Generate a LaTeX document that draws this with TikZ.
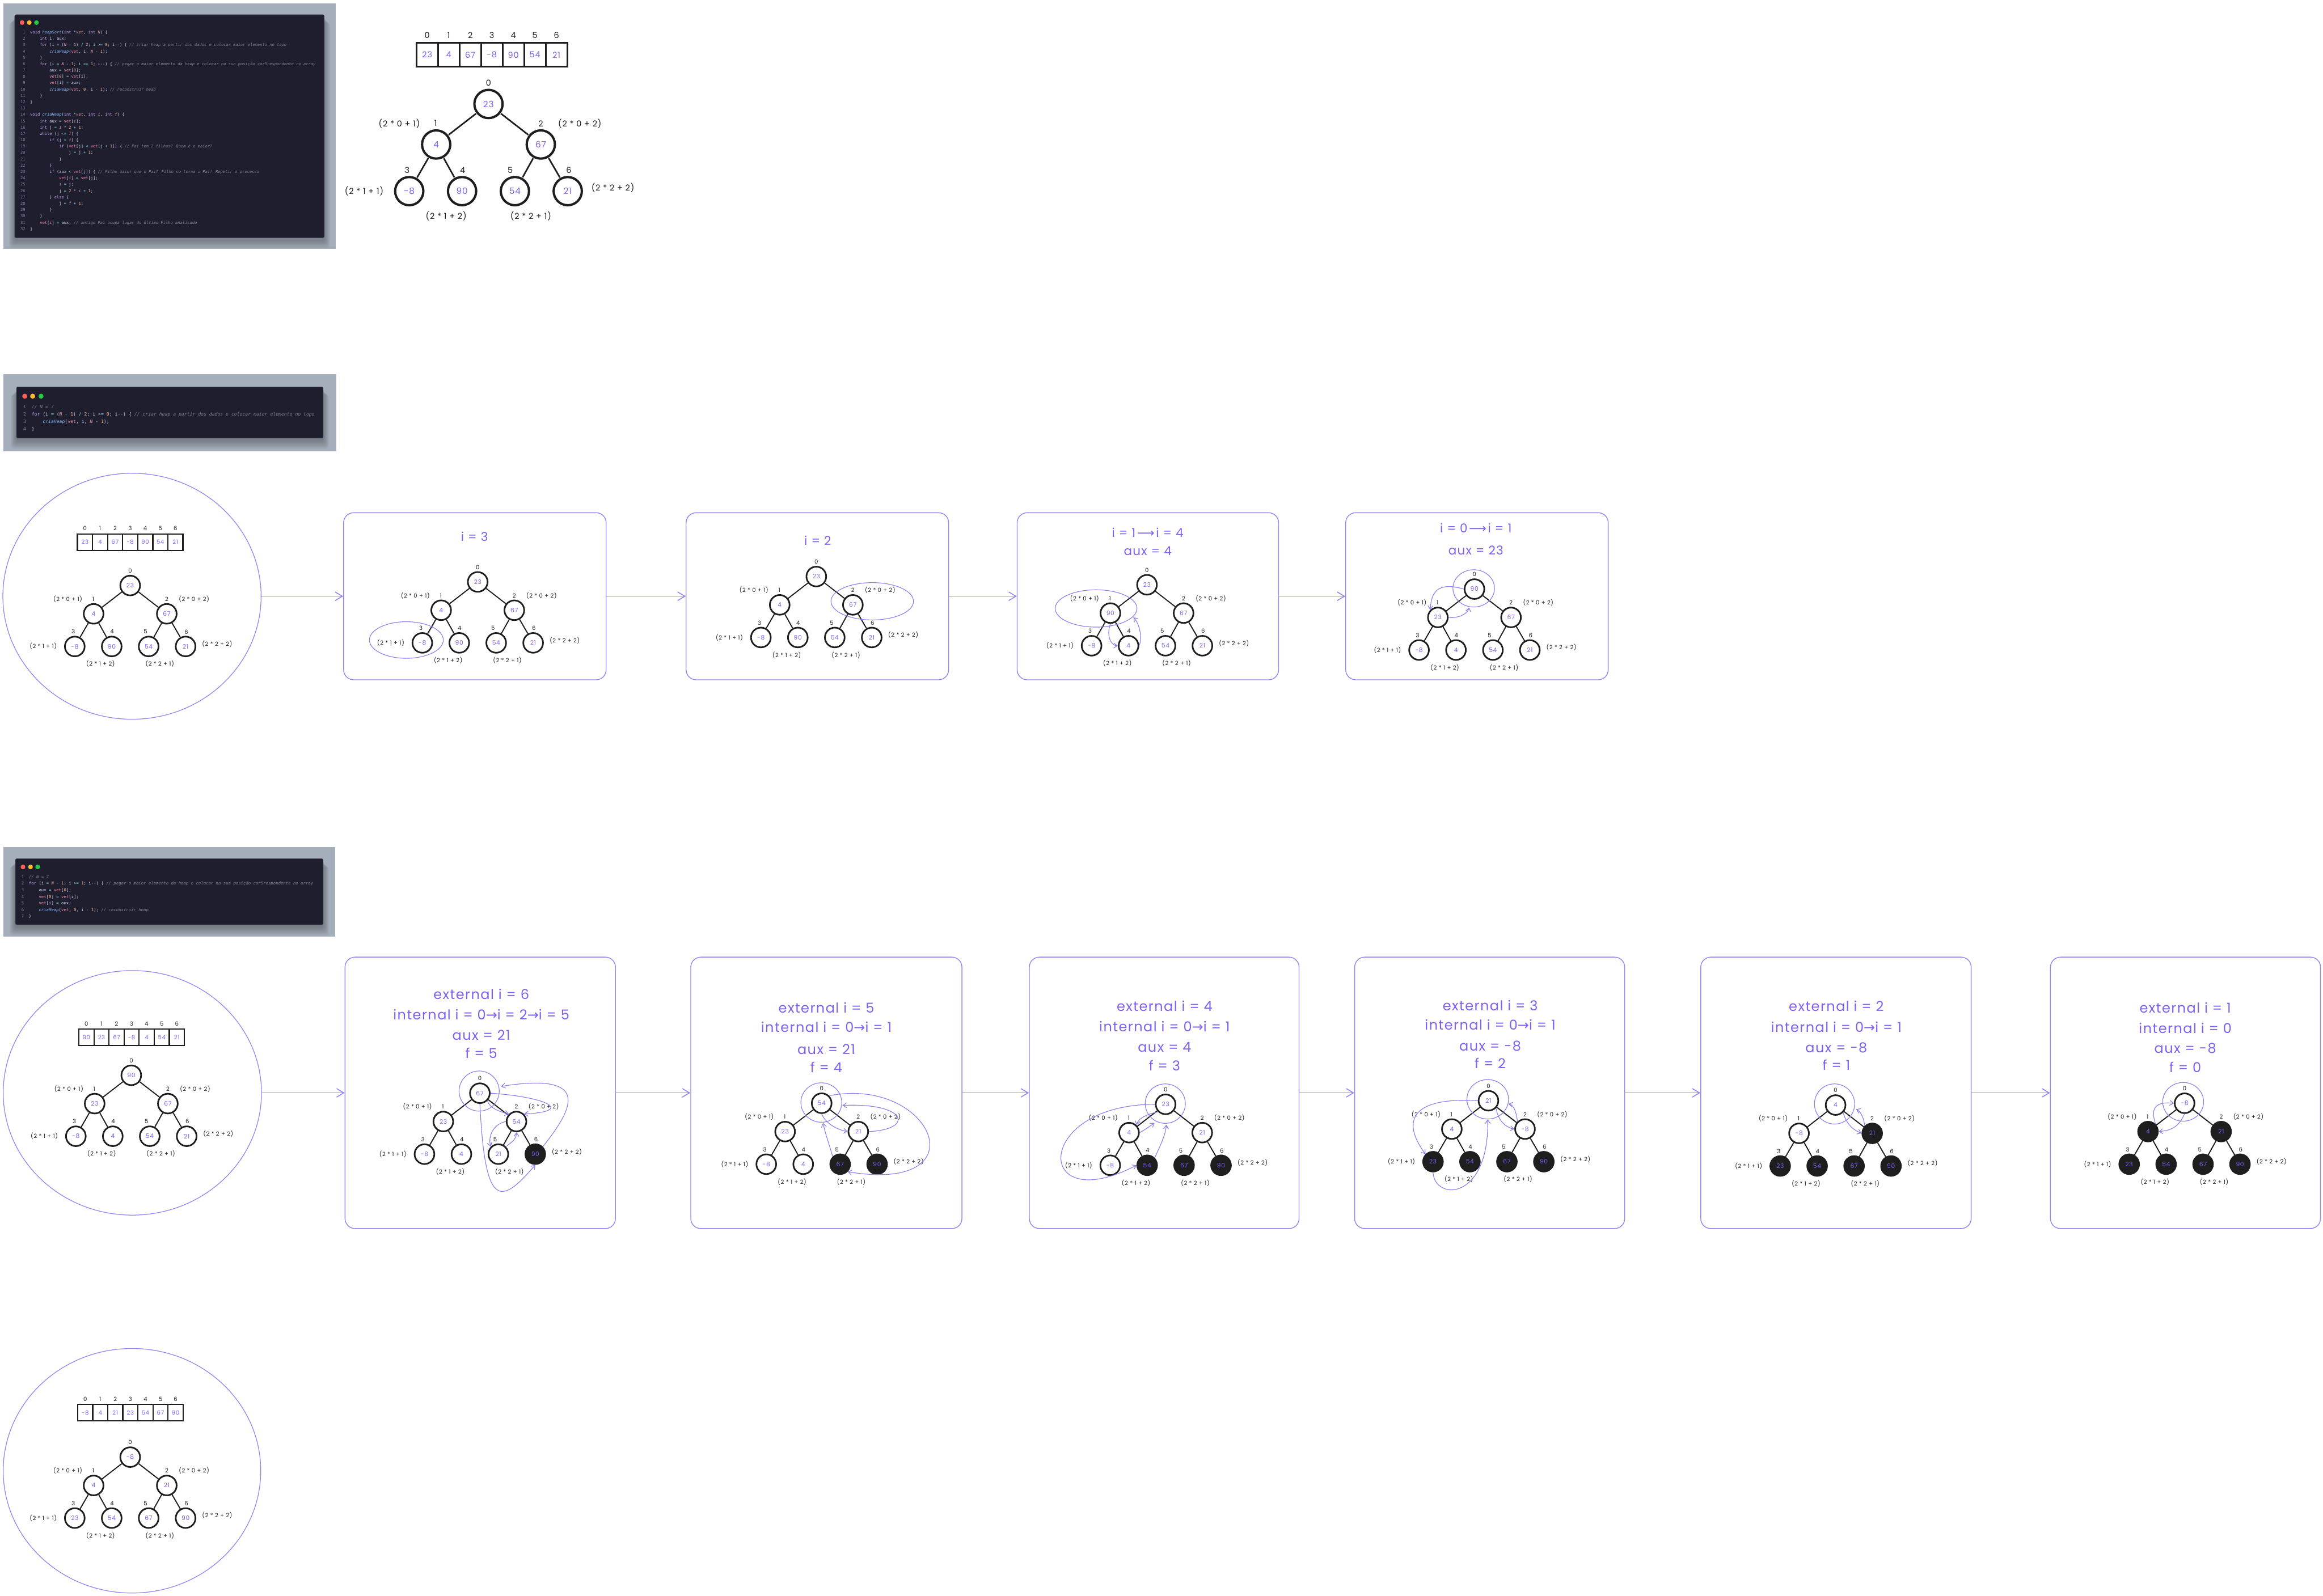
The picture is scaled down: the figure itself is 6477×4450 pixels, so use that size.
\documentclass[tikz,border=0pt]{standalone}
\usepackage{fontspec}
\usetikzlibrary{arrows.meta,shapes.geometric}
\newfontfamily\hand{Poppins}[LetterSpace=6]
\newfontfamily\cfont{DejaVu Sans Mono}
\newfontfamily\arrfont{DejaVu Sans}
\newcommand\ra{{\arrfont →}}
\newcommand\lra{\hspace{0.12em}{\arrfont ⟶}\hspace{0.12em}}
\definecolor{vt}{HTML}{8060F0}
\definecolor{boxc}{HTML}{9684F2}
\definecolor{arrc}{HTML}{8F7BF0}
\definecolor{ink}{HTML}{1E1E1E}
\definecolor{nodedark}{HTML}{1E1E1E}
\definecolor{framec}{HTML}{A5AFBB}
\definecolor{codebg}{HTML}{1E1E2E}
\definecolor{codebd}{HTML}{3B3B4F}
\definecolor{ctx}{HTML}{CDD6F4}
\definecolor{ckw}{HTML}{CBA6F7}
\definecolor{cfn}{HTML}{89B4FA}
\definecolor{cpa}{HTML}{EBA0AC}
\definecolor{cvar}{HTML}{F38BA8}
\definecolor{cnum}{HTML}{FAB387}
\definecolor{cop}{HTML}{89DCEB}
\definecolor{ccm}{HTML}{7F849C}
\definecolor{cln}{HTML}{7F849C}
\definecolor{dotr}{HTML}{FF5F57}
\definecolor{doty}{HTML}{FEBC2E}
\definecolor{dotg}{HTML}{28C840}
\def\hs{1}
\newcommand\Ind[1]{\hspace*{#1\fontcharwd\font`0}}
\newcommand\Kw[1]{\textcolor{ckw}{#1}}
\newcommand\Fn[1]{\textcolor{cfn}{\itshape #1}}
\newcommand\Prm[1]{\textcolor{cpa}{\itshape #1}}
\newcommand\Vv[1]{\textcolor{cvar}{#1}}
\newcommand\Nm[1]{\textcolor{cnum}{#1}}
\newcommand\Op[1]{\textcolor{cop}{#1}}
\newcommand\Cm[1]{\textcolor{ccm}{\itshape #1}}
\newcommand\LA[1]{\textcolor{cln}{\Ind{1}#1}\Ind{2}}
\newcommand\LB[1]{\textcolor{cln}{#1}\Ind{2}}
\tikzset{
 hnode/.style={circle, draw=ink, line width=4.5pt*\hs, minimum size=55, inner sep=0pt, fill=white, text=vt, font=\hand\fontsize{17}{19}\selectfont},
 hlabel/.style={inner sep=0pt, text=ink, font=\hand\fontsize{16}{18}\selectfont},
 hedge/.style={draw=ink, line width=3pt*\hs},
 acell/.style={rectangle, draw=ink, line width=3.5pt*\hs, minimum width=42, minimum height=46, inner sep=0pt, text=vt, font=\hand\fontsize{16}{18}\selectfont},
 frame/.style={draw=boxc, line width=2.2pt, rounded corners=28pt, inner sep=0pt},
 bigcirc/.style={ellipse, draw=boxc, line width=2pt, inner sep=0pt},
 hl/.style={draw=arrc, line width=1.8pt},
 harrow/.style={draw=arrc, line width=1.8pt, -{Straight Barb[length=10pt,width=14pt]}},
 marrow/.style={draw=boxc, line width=2.5pt, -{Straight Barb[length=20pt,width=24pt]}},
 ttl/.style={inner sep=0pt, text=vt, font=\hand\fontsize{34}{40}\selectfont},
 ttlb/.style={inner sep=0pt, text=vt, font=\hand\fontsize{38}{44}\selectfont},
 cl1/.style={anchor=base west, inner sep=0pt, text=ctx, font=\cfont\fontsize{11.2}{13}\selectfont},
 cl2/.style={anchor=base west, inner sep=0pt, text=ctx, font=\cfont\fontsize{12.85}{15}\selectfont},
 cl3/.style={anchor=base west, inner sep=0pt, text=ctx, font=\cfont\fontsize{11.55}{14}\selectfont},
}
\newcommand\heaptree[5]{%
 \def\hs{#4}%
 \begin{scope}[shift={(#2,#3)}, scale=#4, transform shape]
 \foreach \hv/\fl [count=\k from 0] in {#5} {
   \pgfmathsetmacro\px{{0,-102,102,-154.5,-51.5,51.5,154.5}[\k]}
   \pgfmathsetmacro\py{{0,79,79,170,170,170,170}[\k]}
   \pgfmathsetmacro\ix{{0,-1,0,-4,1,-9,2}[\k]}
   \ifnum\fl=1
     \node[hnode, fill=nodedark] (#1n\k) at (\px,\py) {\hv};
   \else
     \node[hnode] (#1n\k) at (\px,\py) {\hv};
   \fi
   \node[hlabel] (#1i\k) at (\px+\ix,\py-41) {\k};
 }
 \draw[hedge] (#1n0) -- (#1n1) (#1n0) -- (#1n2) (#1n1) -- (#1n3) (#1n1) -- (#1n4) (#1n2) -- (#1n5) (#1n2) -- (#1n6);
 \node[hlabel] (#1f1) at (-174,38) {(2 * 0 + 1)};
 \node[hlabel] (#1f2) at (178,38) {(2 * 0 + 2)};
 \node[hlabel] (#1f3) at (-242.5,170) {(2 * 1 + 1)};
 \node[hlabel] (#1f4) at (-82.5,219) {(2 * 1 + 2)};
 \node[hlabel] (#1f5) at (82.5,219) {(2 * 2 + 1)};
 \node[hlabel] (#1f6) at (242.5,163) {(2 * 2 + 2)};
 \end{scope}}
\newcommand\heaparray[5]{%
 \def\hs{#4}%
 \begin{scope}[shift={(#2,#3)}, scale=#4, transform shape]
 \foreach \hv [count=\k from 0] in {#5} {
   \node[acell] (#1c\k) at (21+42*\k,23) {\hv};
   \node[hlabel] (#1x\k) at (21+42*\k,-15) {\k};
 }
 \end{scope}}
\begin{document}
\begin{tikzpicture}[x=1pt,y=-1pt]
\useasboundingbox (0,0) rectangle (6477,4450);
\fill[white] (0,0) rectangle (6477,4450);

% ---------------- code block 1
\fill[framec] (10,10) rectangle (936,694);
\foreach \i in {1,...,8} {\fill[black,opacity=0.035,rounded corners=8] ({41-2*\i},{47+2*\i}) rectangle ({904+2*\i},{669+3*\i});}
\fill[codebg, draw=codebd, line width=1pt, rounded corners=4] (41,41) rectangle (904,663);
\fill[dotr] (61.5,63) circle (6.5);
\fill[doty] (81.6,63) circle (6.5);
\fill[dotg] (101.7,63) circle (6.5);
\node[cl1] (ka1) at (57,94) {\LA{1}\Kw{void} \Fn{heapSort}(\Kw{int} \Op{*}\Prm{vet}, \Kw{int} \Prm{N}) \{};
\node[cl1] (ka2) at (57,111.7) {\LA{2}\Ind{4}\Kw{int} i, aux;};
\node[cl1] (ka3) at (57,129.4) {\LA{3}\Ind{4}\Kw{for} (i \Op{=} (\Prm{N} \Op{-} \Nm{1}) \Op{/} \Nm{2}; i \Op{>=} \Nm{0}; i\Op{-{}-}) \{ \Cm{// criar heap a partir dos dados e colocar maior elemento no topo}};
\node[cl1] (ka4) at (57,147.1) {\LA{4}\Ind{8}\Fn{criaHeap}(\Vv{vet}, i, \Prm{N} \Op{-} \Nm{1});};
\node[cl1] (ka5) at (57,164.8) {\LA{5}\Ind{4}\}};
\node[cl1] (ka6) at (57,182.5) {\LA{6}\Ind{4}\Kw{for} (i \Op{=} \Prm{N} \Op{-} \Nm{1}; i \Op{>=} \Nm{1}; i\Op{-{}-}) \{ \Cm{// pegar o maior elemento da heap e colocar na sua posição cor5respondente no array}};
\node[cl1] (ka7) at (57,200.1) {\LA{7}\Ind{8}aux \Op{=} \Vv{vet}[\Nm{0}];};
\node[cl1] (ka8) at (57,217.8) {\LA{8}\Ind{8}\Vv{vet}[\Nm{0}] \Op{=} \Vv{vet}[i];};
\node[cl1] (ka9) at (57,235.5) {\LA{9}\Ind{8}\Vv{vet}[i] \Op{=} aux;};
\node[cl1] (ka10) at (57,253.2) {\LB{10}\Ind{8}\Fn{criaHeap}(\Vv{vet}, \Nm{0}, i \Op{-} \Nm{1}); \Cm{// reconstruir heap}};
\node[cl1] (ka11) at (57,270.9) {\LB{11}\Ind{4}\}};
\node[cl1] (ka12) at (57,288.6) {\LB{12}\}};
\node[cl1] (ka13) at (57,306.3) {\LB{13}};
\node[cl1] (ka14) at (57,324.0) {\LB{14}\Kw{void} \Fn{criaHeap}(\Kw{int} \Op{*}\Prm{vet}, \Kw{int} \Prm{i}, \Kw{int} \Prm{f}) \{};
\node[cl1] (ka15) at (57,341.7) {\LB{15}\Ind{4}\Kw{int} aux \Op{=} \Vv{vet}[\Prm{i}];};
\node[cl1] (ka16) at (57,359.4) {\LB{16}\Ind{4}\Kw{int} j \Op{=} \Prm{i} \Op{*} \Nm{2} \Op{+} \Nm{1};};
\node[cl1] (ka17) at (57,377.0) {\LB{17}\Ind{4}\Kw{while} (j \Op{<=} \Prm{f}) \{};
\node[cl1] (ka18) at (57,394.7) {\LB{18}\Ind{8}\Kw{if} (j \Op{<} \Prm{f}) \{};
\node[cl1] (ka19) at (57,412.4) {\LB{19}\Ind{12}\Kw{if} (\Vv{vet}[j] \Op{<} \Vv{vet}[j \Op{+} \Nm{1}]) \{ \Cm{// Pai tem 2 filhos? Quem é o maior?}};
\node[cl1] (ka20) at (57,430.1) {\LB{20}\Ind{16}j \Op{=} j \Op{+} \Nm{1};};
\node[cl1] (ka21) at (57,447.8) {\LB{21}\Ind{12}\}};
\node[cl1] (ka22) at (57,465.5) {\LB{22}\Ind{8}\}};
\node[cl1] (ka23) at (57,483.2) {\LB{23}\Ind{8}\Kw{if} (aux \Op{<} \Vv{vet}[j]) \{ \Cm{// Filho maior que o Pai? Filho se torna o Pai! Repetir o processo}};
\node[cl1] (ka24) at (57,500.9) {\LB{24}\Ind{12}\Vv{vet}[\Prm{i}] \Op{=} \Vv{vet}[j];};
\node[cl1] (ka25) at (57,518.6) {\LB{25}\Ind{12}\Prm{i} \Op{=} j;};
\node[cl1] (ka26) at (57,536.3) {\LB{26}\Ind{12}j \Op{=} \Nm{2} \Op{*} \Prm{i} \Op{+} \Nm{1};};
\node[cl1] (ka27) at (57,553.9) {\LB{27}\Ind{8}\} \Kw{else} \{};
\node[cl1] (ka28) at (57,571.6) {\LB{28}\Ind{12}j \Op{=} \Prm{f} \Op{+} \Nm{1};};
\node[cl1] (ka29) at (57,589.3) {\LB{29}\Ind{8}\}};
\node[cl1] (ka30) at (57,607.0) {\LB{30}\Ind{4}\}};
\node[cl1] (ka31) at (57,624.7) {\LB{31}\Ind{4}\Vv{vet}[\Prm{i}] \Op{=} aux; \Cm{// antigo Pai ocupa lugar do último Filho analisado}};
\node[cl1] (ka32) at (57,642.4) {\LB{32}\}};

% ---------------- code block 2
\fill[framec] (10,1043) rectangle (937,1258);
\foreach \i in {1,...,8} {\fill[black,opacity=0.035,rounded corners=8] ({46-2*\i},{1085+2*\i}) rectangle ({901+2*\i},{1228+3*\i});}
\fill[codebg, draw=codebd, line width=1pt, rounded corners=4] (46,1079) rectangle (901,1222);
\fill[dotr] (69,1105) circle (7);
\fill[doty] (91,1105) circle (7);
\fill[dotg] (114.5,1105) circle (7);
\node[cl2] (kb1) at (64.8,1140) {\LB{1}\Cm{// N = 7}};
\node[cl2] (kb2) at (64.8,1160.3) {\LB{2}\Kw{for} (i \Op{=} (\Prm{N} \Op{-} \Nm{1}) \Op{/} \Nm{2}; i \Op{>=} \Nm{0}; i\Op{-{}-}) \{ \Cm{// criar heap a partir dos dados e colocar maior elemento no topo}};
\node[cl2] (kb3) at (64.8,1180.6) {\LB{3}\Ind{4}\Fn{criaHeap}(\Vv{vet}, i, \Prm{N} \Op{-} \Nm{1});};
\node[cl2] (kb4) at (64.8,1200.9) {\LB{4}\}};

% ---------------- code block 3
\fill[framec] (10,2363) rectangle (935,2612);
\foreach \i in {1,...,8} {\fill[black,opacity=0.035,rounded corners=8] ({43-2*\i},{2401+2*\i}) rectangle ({901+2*\i},{2585+3*\i});}
\fill[codebg, draw=codebd, line width=1pt, rounded corners=4] (43,2395) rectangle (901,2579);
\fill[dotr] (64,2418) circle (6.5);
\fill[doty] (85,2418) circle (6.5);
\fill[dotg] (105,2418) circle (6.5);
\node[cl3] (kc1) at (59.5,2450) {\LB{1}\Cm{// N = 7}};
\node[cl3] (kc2) at (59.5,2468.3) {\LB{2}\Kw{for} (i \Op{=} \Prm{N} \Op{-} \Nm{1}; i \Op{>=} \Nm{1}; i\Op{-{}-}) \{ \Cm{// pegar o maior elemento da heap e colocar na sua posição cor5respondente no array}};
\node[cl3] (kc3) at (59.5,2486.6) {\LB{3}\Ind{4}aux \Op{=} \Vv{vet}[\Nm{0}];};
\node[cl3] (kc4) at (59.5,2504.9) {\LB{4}\Ind{4}\Vv{vet}[\Nm{0}] \Op{=} \Vv{vet}[i];};
\node[cl3] (kc5) at (59.5,2523.2) {\LB{5}\Ind{4}\Vv{vet}[i] \Op{=} aux;};
\node[cl3] (kc6) at (59.5,2541.5) {\LB{6}\Ind{4}\Fn{criaHeap}(\Vv{vet}, \Nm{0}, i \Op{-} \Nm{1}); \Cm{// reconstruir heap}};
\node[cl3] (kc7) at (59.5,2559.8) {\LB{7}\}};

% ---------------- top big tree
\heaparray{a1}{1161}{120}{1.43}{23,4,67,-8,90,54,21}
\heaptree{t1}{1362}{290}{1.43}{23/0,4/0,67/0,-8/0,90/0,54/0,21/0}

% ---------------- row 2
\node[bigcirc, minimum width=720, minimum height=686] (c2) at (368,1663) {};
\heaparray{a2}{216}{1489}{1}{23,4,67,-8,90,54,21}
\heaptree{t2}{363}{1633}{1}{23/0,4/0,67/0,-8/0,90/0,54/0,21/0}

\node[frame, minimum width=732, minimum height=466] (bx1) at (1324,1663) {};
\node[frame, minimum width=732, minimum height=466] (bx2) at (2279,1663) {};
\node[frame, minimum width=729, minimum height=466] (bx3) at (3200.5,1663) {};
\node[frame, minimum width=732, minimum height=466] (bx4) at (4118,1663) {};

\node[ttl] (bx1a) at (1323,1497) {i = 3};
\heaptree{r1}{1332}{1623}{1}{23/0,4/0,67/0,-8/0,90/0,54/0,21/0}
\draw[hl] (1133,1785) ellipse [x radius=103, y radius=51];

\node[ttl] (bx2a) at (2280,1507) {i = 2};
\heaptree{r2}{2276}{1608}{1}{23/0,4/0,67/0,-8/0,90/0,54/0,21/0}
\draw[hl] (2432,1677) ellipse [x radius=115, y radius=52];

\node[ttl] (bx3a) at (3200,1485) {i = 1\lra i = 4};
\node[ttl] (bx3b) at (3200,1537) {aux = 4};
\heaptree{r3}{3198}{1631}{1}{23/0,90/0,67/0,-8/0,4/0,54/0,21/0}
\draw[hl] (3056,1697) ellipse [x radius=114, y radius=52];
\coordinate (r3t) at (3160,1722);
\draw[harrow] (r3n1.south) .. controls (3085,1770) and (3095,1800) .. (r3n4.west);
\draw[harrow] (r3n4.east) .. controls (3185,1780) and (3178,1740) .. (r3t);

\node[ttl] (bx4a) at (4115,1472) {i = 0\lra i = 1};
\node[ttl] (bx4b) at (4115,1535) {aux = 23};
\heaptree{r4}{4111}{1643}{1}{90/0,23/0,67/0,-8/0,4/0,54/0,21/0}
\draw[hl] (4109,1641) ellipse [x radius=58, y radius=52];
\coordinate (r4t) at (4096,1694);
\draw[harrow] (r4n0.west) .. controls (4010,1622) and (3990,1650) .. (r4n1.north west);
\draw[harrow] (r4n1.east) .. controls (4060,1725) and (4092,1715) .. (r4t);

\draw[marrow] (c2.east) -- (bx1.west);
\draw[marrow] (bx1.east) -- (bx2.west);
\draw[marrow] (bx2.east) -- (bx3.west);
\draw[marrow] (bx3.east) -- (bx4.west);

% ---------------- row 3
\node[bigcirc, minimum width=720, minimum height=682] (c3) at (369,3048) {};
\heaparray{a3}{220}{2870}{1}{90,23,67,-8,4,54,21}
\heaptree{t3}{366}{2999}{1}{90/0,23/0,67/0,-8/0,4/0,54/0,21/0}

\node[frame, minimum width=754, minimum height=757] (BX1) at (1339,3048) {};
\node[frame, minimum width=756, minimum height=757] (BX2) at (2304,3048) {};
\node[frame, minimum width=752, minimum height=757] (BX3) at (3246,3048) {};
\node[frame, minimum width=753, minimum height=757] (BX4) at (4153.5,3048) {};
\node[frame, minimum width=754, minimum height=757] (BX5) at (5119,3048) {};
\node[frame, minimum width=753, minimum height=757] (BX6) at (6093.5,3048) {};

% box 1
\node[ttlb] (BX1a) at (1342,2773) {external i = 6};
\node[ttlb] (BX1b) at (1342,2829) {internal i = 0\ra i = 2\ra i = 5};
\node[ttlb] (BX1c) at (1342,2887) {aux = 21};
\node[ttlb] (BX1d) at (1342,2937) {f = 5};
\heaptree{s1}{1338}{3049}{1}{67/0,23/0,54/0,-8/0,4/0,21/0,90/1}
\draw[hl] (1336,3043) ellipse [x radius=56, y radius=56];
\coordinate (s1t1) at (1397,3030);
\draw[harrow] (s1n6.north east) .. controls (1600,3090) and (1650,2990) .. (s1t1);
\draw[harrow] (s1n0.east) .. controls (1530,3060) and (1600,3100) .. (s1n2.north east);
\draw[harrow] (s1n0.south east) .. controls (1365,3090) and (1390,3100) .. (s1n2.north west);
\draw[harrow] (s1n2.west) .. controls (1375,3135) and (1360,3170) .. (s1n5.north west);
\draw[harrow] (s1n5.north east) .. controls (1420,3190) and (1440,3180) .. (s1n2.south);
\draw[harrow] (s1n0.south) .. controls (1352,3360) and (1390,3370) .. (s1n6.south);

% box 2
\node[ttlb] (BX2a) at (2304,2810) {external i = 5};
\node[ttlb] (BX2b) at (2304,2864) {internal i = 0\ra i = 1};
\node[ttlb] (BX2c) at (2304,2927) {aux = 21};
\node[ttlb] (BX2d) at (2304,2976) {f = 4};
\heaptree{s2}{2291}{3077}{1}{54/0,23/0,21/0,-8/0,4/0,67/1,90/1}
\draw[hl] (2290,3075) ellipse [x radius=57, y radius=55];
\coordinate (s2t1) at (2349,3083);
\coordinate (s2t2) at (2295,3132);
\draw[harrow] (s2n0.north east) .. controls (2600,3000) and (2740,3330) .. (s2n5.south east);
\draw[harrow] (s2n2.east) .. controls (2550,3150) and (2530,3075) .. (s2t1);
\draw[harrow] (s2n0.south) .. controls (2300,3130) and (2330,3150) .. (s2n2.west);
\draw[harrow] (s2n5.north west) .. controls (2315,3200) and (2300,3160) .. (s2t2);

% box 3
\node[ttlb] (BX3a) at (3247,2806) {external i = 4};
\node[ttlb] (BX3b) at (3247,2863) {internal i = 0\ra i = 1};
\node[ttlb] (BX3c) at (3247,2921) {aux = 4};
\node[ttlb] (BX3d) at (3247,2972) {f = 3};
\heaptree{s3}{3250}{3080}{1}{23/0,4/0,21/0,-8/0,54/1,67/1,90/1}
\draw[hl] (3249,3078) ellipse [x radius=56, y radius=55];
\coordinate (s3t1) at (3219,3132);
\coordinate (s3t2) at (3252,3137);
\draw[harrow] (s3n0.west) .. controls (2880,3080) and (2880,3400) .. (s3n4.west);
\draw[harrow] (s3n0.south west) .. controls (3185,3110) and (3172,3125) .. (s3n1.north east);
\draw[harrow] (s3n1.east) .. controls (3190,3152) and (3205,3142) .. (s3t1);
\draw[harrow] (s3n4.north east) .. controls (3235,3195) and (3250,3165) .. (s3t2);

% box 4
\node[ttlb] (BX4a) at (4155,2804) {external i = 3};
\node[ttlb] (BX4b) at (4155,2858) {internal i = 0\ra i = 1};
\node[ttlb] (BX4c) at (4155,2917) {aux = -8};
\node[ttlb] (BX4d) at (4155,2965) {f = 2};
\heaptree{s4}{4150}{3070}{1}{21/0,4/0,-8/0,23/1,54/1,67/1,90/1}
\draw[hl] (4148,3066) ellipse [x radius=58, y radius=55];
\coordinate (s4t1) at (4148,3122);
\coordinate (s4t2) at (4206,3079);
\draw[harrow] (s4n0.west) .. controls (3960,3060) and (3895,3110) .. (s4n3.north west);
\draw[harrow] (s4n3.south) .. controls (4000,3350) and (4152,3350) .. (s4t1);
\draw[harrow] (s4n0.south east) .. controls (4178,3128) and (4200,3145) .. (s4n2.west);
\draw[harrow] (s4n2.north west) .. controls (4228,3105) and (4222,3082) .. (s4t2);

% box 5
\node[ttlb] (BX5a) at (5120,2806) {external i = 2};
\node[ttlb] (BX5b) at (5120,2865) {internal i = 0\ra i = 1};
\node[ttlb] (BX5c) at (5120,2922) {aux = -8};
\node[ttlb] (BX5d) at (5120,2970) {f = 1};
\heaptree{s5}{5118}{3082}{1}{4/0,-8/0,21/1,23/1,54/1,67/1,90/1}
\draw[hl] (5115,3079) ellipse [x radius=56, y radius=56];
\coordinate (s5t1) at (5175,3094);
\draw[harrow] (s5n0.south east) .. controls (5150,3140) and (5170,3152) .. (s5n2.west);
\draw[harrow] (s5n2.north west) .. controls (5198,3125) and (5190,3100) .. (s5t1);

% box 6
\node[ttlb] (BX6a) at (6093,2811) {external i = 1};
\node[ttlb] (BX6b) at (6093,2868) {internal i = 0};
\node[ttlb] (BX6c) at (6093,2924) {aux = -8};
\node[ttlb] (BX6d) at (6093,2976) {f = 0};
\heaptree{s6}{6091}{3077}{1}{-8/0,4/1,21/1,23/1,54/1,67/1,90/1}
\draw[hl] (6087,3073) ellipse [x radius=57, y radius=54];
\draw[harrow] (s6n1.north east) .. controls (5995,3090) and (6010,3072) .. (s6n0.west);
\draw[harrow] (s6n0.south) .. controls (6075,3140) and (6060,3152) .. (s6n1.east);

\draw[marrow] (c3.east) -- (BX1.west);
\draw[marrow] (BX1.east) -- (BX2.west);
\draw[marrow] (BX2.east) -- (BX3.west);
\draw[marrow] (BX3.east) -- (BX4.west);
\draw[marrow] (BX4.east) -- (BX5.west);
\draw[marrow] (BX5.east) -- (BX6.west);

% ---------------- bottom circle
\node[bigcirc, minimum width=718, minimum height=682] (c4) at (368,4102) {};
\heaparray{a4}{216.5}{3917}{1}{-8,4,21,23,54,67,90}
\heaptree{t4}{363}{4064}{1}{-8/0,4/0,21/0,23/0,54/0,67/0,90/0}
\end{tikzpicture}
\end{document}
